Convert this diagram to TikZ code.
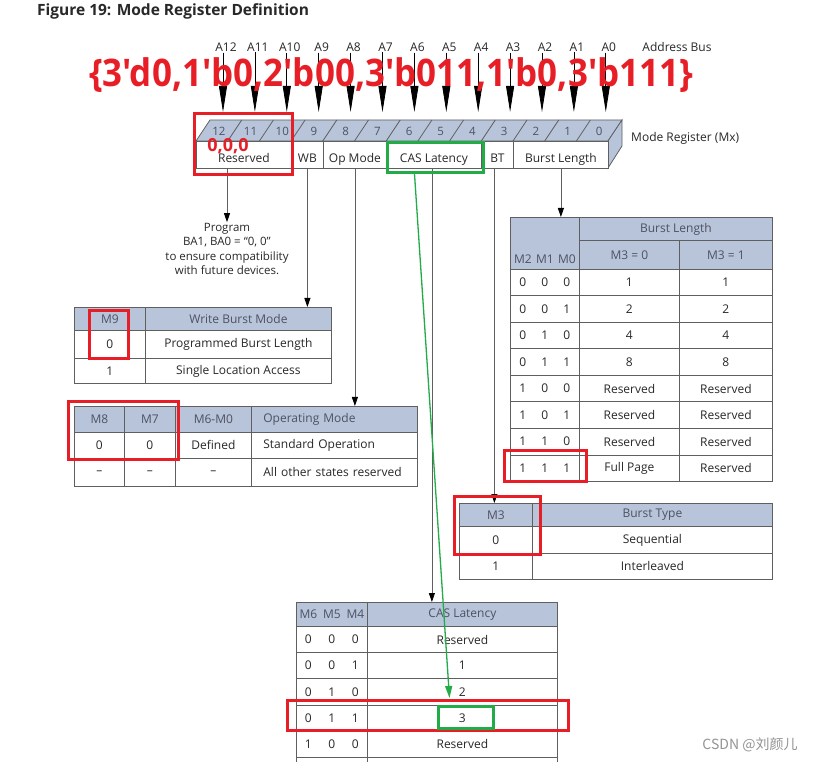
\documentclass[tikz,border=0pt]{standalone}
\usepackage{fontspec}
\setmainfont{Open Sans}
\newfontfamily\exprfont{Open Sans}[Ligatures=TeXOff]
\newfontfamily\cjkfont{Noto Sans CJK SC}
\usetikzlibrary{arrows.meta,positioning,calc}
\definecolor{hdrfill}{RGB}{183,196,218}
\definecolor{rulegray}{RGB}{95,95,95}
\definecolor{hdrtext}{RGB}{78,82,98}
\definecolor{bodytext}{RGB}{40,40,40}
\definecolor{markred}{RGB}{232,30,38}
\definecolor{markgreen}{RGB}{34,172,72}
\newcommand{\tabfont}{\fontsize{12}{14}\selectfont}
\tikzset{
  cell/.style={draw=rulegray, line width=0.8pt, anchor=north west,
    inner sep=0pt, text=bodytext, font=\tabfont},
  hcell/.style={cell, fill=hdrfill, text=hdrtext},
  lcell/.style={align=left, text width=#1, inner xsep=12pt},
  dim/.style 2 args={minimum width=#1pt, minimum height=#2pt},
  regcell/.style={cell, fill=white, minimum height=27pt,
    text height=17pt, text depth=2pt},
  buslabel/.style={text=bodytext, font=\tabfont, inner sep=1pt},
  busarrow/.style={line width=0.8pt, -{Triangle[length=26pt,width=8pt]}},
  conn/.style={draw=rulegray, line width=0.8pt,
    -{Triangle[length=9pt,width=6pt,color=black]}},
  redmark/.style={draw=markred, line width=3pt, anchor=north west,
    inner sep=0pt},
  greenmark/.style={draw=markgreen, line width=3pt, anchor=north west,
    inner sep=0pt},
  greenarrow/.style={draw=markgreen, line width=1.3pt,
    -{Triangle[length=12pt,width=7pt]}},
}

\begin{document}
\begin{tikzpicture}[x=1pt, y=-1pt]
  \useasboundingbox (0,0) rectangle (815,762);
  \clip (0,0) rectangle (815,762);
  \fill[white] (0,0) rectangle (815,762);

  % Title
  \node[anchor=west, inner sep=0pt, text=bodytext,
        font=\fontsize{15.5}{17}\selectfont\bfseries] (title) at (37,11)
        {Figure 19: Mode Register Definition};

  % Address bus
  \foreach \i in {0,...,12} {
    \pgfmathsetmacro\xx{223+(12-\i)*31.9}
    \node[buslabel] (a\i) at (\xx+3,47) {A\i};
    \coordinate (t\i) at (\xx,112);
    \draw[busarrow] (t\i |- a\i.south) -- (t\i);
  }
  \node[buslabel] (abus) at (677,47) {Address Bus};

  % Mode register: top face, side face, front cells
  \draw[draw=rulegray, line width=0.8pt, fill=hdrfill]
    (196,141) -- (210,120) -- (622,120) -- (608,141) -- cycle;
  \draw[draw=rulegray, line width=0.8pt, fill=hdrfill]
    (608,141) -- (622,120) -- (622,146) -- (608,168) -- cycle;
  \foreach \k in {1,...,12}
    \draw[draw=rulegray, line width=0.8pt] (196+\k*31.7,141) -- ++(14,-21);
  \foreach \i in {0,...,12} {
    \pgfmathsetmacro\xx{196+(12-\i+0.5)*31.7+7}
    \node[text=hdrtext, font=\fontsize{11.5}{12}\selectfont] (b\i) at (\xx,131) {\i};
  }
  \node[regcell, dim={95}{27}] (regres) at (196,141) {Reserved};
  \node[regcell, dim={32}{27}] (regwb) at (291,141) {WB};
  \node[regcell, dim={63}{27}] (regop) at (323,141) {Op Mode};
  \node[regcell, dim={95}{27}] (regcas) at (386,141) {CAS Latency};
  \node[regcell, dim={32}{27}] (regbt) at (481,141) {BT};
  \node[regcell, dim={95}{27}] (regbl) at (513,141) {Burst Length};
  \node[buslabel, anchor=west] (mxlabel) at (630,138) {Mode Register (Mx)};

  % Note under the reserved bits
  \node[align=center, text=bodytext, font=\fontsize{11.5}{14.3}\selectfont,
        inner sep=1pt] (prognote) at (227,249)
        {Program\\BA1, BA0 = ``0, 0''\\to ensure compatibility\\with future devices.};

  % Write burst mode table
  \node[hcell, dim={71}{23}] (wbm11) at (74,307) {M9};
  \node[hcell, dim={186}{23}] (wbm12) at (145,307) {Write Burst Mode};
  \node[cell, dim={71}{28}] (wbm21) at (74,330) {0};
  \node[cell, dim={186}{28}] (wbm22) at (145,330) {Programmed Burst Length};
  \node[cell, dim={71}{25}] (wbm31) at (74,358) {1};
  \node[cell, dim={186}{25}] (wbm32) at (145,358) {Single Location Access};

  % Operating mode table
  \node[hcell, dim={50}{26}] (op11) at (74,406) {M8};
  \node[hcell, dim={51}{26}] (op12) at (124,406) {M7};
  \node[hcell, dim={76}{26}] (op13) at (175,406) {M6-M0};
  \node[hcell, lcell=142pt, dim={166}{26}] (op14) at (251,406) {Operating Mode};
  \node[cell, dim={50}{26}] (op21) at (74,432) {0};
  \node[cell, dim={51}{26}] (op22) at (124,432) {0};
  \node[cell, dim={76}{26}] (op23) at (175,432) {Defined};
  \node[cell, lcell=142pt, dim={166}{26}] (op24) at (251,432) {Standard Operation};
  \node[cell, dim={50}{28}] (op31) at (74,458) {--};
  \node[cell, dim={51}{28}] (op32) at (124,458) {--};
  \node[cell, dim={76}{28}] (op33) at (175,458) {--};
  \node[cell, lcell=142pt, dim={166}{28}] (op34) at (251,458) {All other states reserved};

  % Burst length table
  \node[hcell, dim={69}{52}, text height=44pt, text depth=4pt] (blh1) at (510,217)
    {\makebox[22pt]{M2}\makebox[22pt]{M1}\makebox[22pt]{M0}};
  \node[hcell, dim={193}{23}] (blh2) at (579,217) {Burst Length};
  \node[hcell, dim={100}{29}] (blh3) at (579,240) {M3 = 0};
  \node[hcell, dim={93}{29}] (blh4) at (679,240) {M3 = 1};
  \foreach \ba/\bb/\bc/\va/\vb [count=\r from 0] in
    {0/0/0/1/1, 0/0/1/2/2, 0/1/0/4/4, 0/1/1/8/8,
     1/0/0/Reserved/Reserved, 1/0/1/Reserved/Reserved,
     1/1/0/Reserved/Reserved, 1/1/1/Full Page/Reserved} {
    \pgfmathsetmacro\yy{269+26.5*\r}
    \node[cell, dim={69}{26.5}] (blb\r) at (510,\yy)
      {\makebox[22pt]{\ba}\makebox[22pt]{\bb}\makebox[22pt]{\bc}};
    \node[cell, dim={100}{26.5}] (blp\r) at (579,\yy) {\va};
    \node[cell, dim={93}{26.5}] (blq\r) at (679,\yy) {\vb};
  }

  % Burst type table
  \node[hcell, dim={73}{23}] (bt11) at (459,503) {M3};
  \node[hcell, dim={240}{23}] (bt12) at (532,503) {Burst Type};
  \node[cell, dim={73}{27}] (bt21) at (459,526) {0};
  \node[cell, dim={240}{27}] (bt22) at (532,526) {Sequential};
  \node[cell, dim={73}{26}] (bt31) at (459,553) {1};
  \node[cell, dim={240}{26}] (bt32) at (532,553) {Interleaved};

  % CAS latency table
  \node[hcell, dim={71}{24}] (cash1) at (296,602)
    {\makebox[23.5pt]{M6}\makebox[23.5pt]{M5}\makebox[23.5pt]{M4}};
  \node[hcell, dim={190}{24}] (cash2) at (367,602) {CAS Latency};
  \foreach \ba/\bb/\bc/\lat [count=\r from 0] in
    {0/0/0/Reserved, 0/0/1/1, 0/1/0/2, 0/1/1/3, 1/0/0/Reserved} {
    \pgfmathsetmacro\yy{626+26.2*\r}
    \node[cell, dim={71}{26.2}] (casb\r) at (296,\yy)
      {\makebox[23.5pt]{\ba}\makebox[23.5pt]{\bb}\makebox[23.5pt]{\bc}};
    \node[cell, dim={190}{26.2}] (casl\r) at (367,\yy) {\lat};
  }
  \node[cell, dim={71}{26.2}] (casb5) at (296,757) {};
  \node[cell, dim={190}{26.2}] (casl5) at (367,757) {};

  % Connectors from register fields
  \draw[conn] (regres.south -| prognote.north) -- (prognote.north);
  \draw[conn] (regwb.south) -- (regwb.south |- wbm12.north);
  \draw[conn] (regop.south) -- (regop.south |- op14.north);
  \draw[conn] ([xshift=-2pt]regcas.south) -- ([xshift=-2pt]regcas.south |- cash2.north);
  \draw[conn] ([xshift=-3pt]regbt.south) -- ([xshift=-3pt]regbt.south |- bt11.north);
  \draw[conn] (regbl.south) -- (regbl.south |- blh2.north);

  % Annotations
  \node[text=markred, font=\exprfont\fontsize{38}{40}\selectfont\bfseries,
        inner sep=0pt] (expr) at (391,75)
        {\scalebox{0.92}[1]{\{3'd0,1'b0,2'b00,3'b011,1'b0,3'b111\}}};
  \node[text=markred, font=\fontsize{18}{20}\selectfont\bfseries,
        inner sep=0pt] (zeros) at (228,146) {0,0,0};
  \node[redmark, dim={98}{61}] (mres) at (193,112) {};
  \node[redmark, dim={39}{48}] (mnine) at (88,309) {};
  \node[redmark, dim={110}{58}] (meightseven) at (67,400) {};
  \node[redmark, dim={82}{31}] (mfull) at (503,449) {};
  \node[redmark, dim={86}{58}] (mseq) at (453,495) {};
  \node[redmark, dim={281}{30}] (mrow) at (286,699) {};
  \node[greenmark, dim={96}{30}] (mcas) at (386,141) {};
  \node[greenmark, dim={55}{22}] (mthree) at (437,705) {};
  \coordinate (gfrom) at ([xshift=-21pt]mcas.south);
  \coordinate (gto) at ([xshift=-16.5pt,yshift=7pt]mthree.north);
  \draw[greenarrow] (gfrom) -- (gto);

  % Watermark
  \node[text=black!42, font=\cjkfont\fontsize{14}{16}\selectfont,
        inner sep=0pt] (mark) at (750,745) {CSDN @刘颜儿};
\end{tikzpicture}
\end{document}
